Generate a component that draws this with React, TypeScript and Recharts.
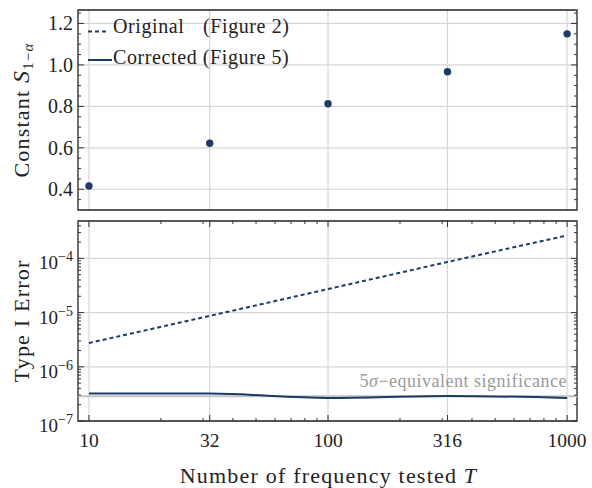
import React from 'react';
import {
  ScatterChart, ComposedChart, Scatter, Line, XAxis, YAxis, CartesianGrid,
  ReferenceLine, ReferenceArea, Legend,
} from 'recharts';

// values
const frequencies = [10, 32, 100, 316, 1000];
const constantS = [0.416, 0.622, 0.813, 0.967, 1.15];
const originalError = [2.75e-6, 8.7e-6, 2.72e-5, 8.6e-5, 2.65e-4];
const correctedError = [3.22e-7, 3.2e-7, 2.67e-7, 2.9e-7, 2.67e-7];
const fiveSigmaLevel = 2.87e-7;

// ticks
const xMajor = [10, 32, 100, 316, 1000];
const xMinor = [20, 30, 40, 50, 60, 70, 80, 90, 200, 300, 400, 500, 600, 700, 800, 900];
const sMajor = [0.4, 0.6, 0.8, 1.0, 1.2];
const sMinor = [0.35, 0.45, 0.5, 0.55, 0.65, 0.7, 0.75, 0.85, 0.9, 0.95, 1.05, 1.1, 1.15, 1.25];
const errMajor = [1e-7, 1e-6, 1e-5, 1e-4];
const errMinor = [
  2e-7, 3e-7, 4e-7, 5e-7, 6e-7, 7e-7, 8e-7, 9e-7,
  2e-6, 3e-6, 4e-6, 5e-6, 6e-6, 7e-6, 8e-6, 9e-6,
  2e-5, 3e-5, 4e-5, 5e-5, 6e-5, 7e-5, 8e-5, 9e-5,
  2e-4, 3e-4, 4e-4,
];

const sRows = frequencies.map((T, i) => ({ T, s: constantS[i] }));
const errRows = frequencies.map((T, i) => ({ T, original: originalError[i], corrected: correctedError[i] }));

const SERIF = 'Liberation Serif';
const NAVY = '#1e3a66';
const TICK = '#333';
const GRID = '#d6d6d6';
const PLOT_W = 499;
const PLOT_H = 200;
const MAJOR_LEN = 6;
const MINOR_LEN = 3;

const xTick = (labels: boolean) => (props: any) => {
  const { x, y, payload } = props;
  const v = payload.value;
  const major = xMajor.includes(v);
  const len = major ? MAJOR_LEN : MINOR_LEN;
  return (
    <g>
      <line x1={x} x2={x} y1={y} y2={y - len} stroke={TICK} />
      <line x1={x} x2={x} y1={y - PLOT_H} y2={y - PLOT_H + len} stroke={TICK} />
      {labels && major && (
        <text x={x} y={y + 26} textAnchor="middle" fontSize={19.5} fontFamily={SERIF} fill="#222">{v}</text>
      )}
    </g>
  );
};

const sTick = (props: any) => {
  const { x, y, payload } = props;
  const v = payload.value;
  const major = sMajor.includes(v);
  const len = major ? MAJOR_LEN : MINOR_LEN;
  return (
    <g>
      <line x1={x} x2={x + len} y1={y} y2={y} stroke={TICK} />
      <line x1={x + PLOT_W} x2={x + PLOT_W - len} y1={y} y2={y} stroke={TICK} />
      {major && (
        <text x={x - 5} y={y + 7} textAnchor="end" fontSize={20} fontFamily={SERIF} fill="#222">{v.toFixed(1)}</text>
      )}
    </g>
  );
};

const errTick = (props: any) => {
  const { x, y, payload } = props;
  const v = payload.value;
  const major = errMajor.includes(v);
  const len = major ? MAJOR_LEN : MINOR_LEN;
  const exp = Math.round(Math.log10(v));
  return (
    <g>
      <line x1={x} x2={x + len} y1={y} y2={y} stroke={TICK} />
      <line x1={x + PLOT_W} x2={x + PLOT_W - len} y1={y} y2={y} stroke={TICK} />
      {major && (
        <text x={x - 5} y={y + 11} textAnchor="end" fontSize={19} fontFamily={SERIF} fill="#222">
          10<tspan fontSize={14} dy={-8}>{'\u2212' + Math.abs(exp)}</tspan>
        </text>
      )}
    </g>
  );
};

const yTitle = (render: (cx: number, cy: number) => React.ReactNode) => (props: any) => {
  const vb = props.viewBox;
  return render(28.5, vb.y + vb.height / 2);
};

const LegendBox = () => (
  <svg width={300} height={80} style={{ display: 'block' }}>
    <line x1={88} x2={108} y1={31.5} y2={31.5} stroke={NAVY} strokeWidth={2} strokeDasharray="4 3" />
    <line x1={88} x2={112} y1={60} y2={60} stroke={NAVY} strokeWidth={2} />
    <g fontFamily={SERIF} fontSize={20} fill="#222" letterSpacing={0.6}>
      <text x={113} y={32.5}>Original</text>
      <text x={203} y={32.5}>(Figure 2)</text>
      <text x={113} y={63.5}>Corrected (Figure 5)</text>
    </g>
  </svg>
);

export default function App() {
  return (
    <div style={{ position: 'absolute', left: 0, top: 0, width: 592, height: 488, background: '#fff' }}>
      <div style={{ position: 'absolute', left: 0, top: 0 }}>
        <ScatterChart width={592} height={222} margin={{ top: 10, right: 15, bottom: 12, left: 0 }}>
          <CartesianGrid verticalValues={xMajor} horizontalValues={sMajor} stroke={GRID} strokeWidth={1.2} />
          <XAxis
            dataKey="T" type="number" scale="log" domain={[9, 1100]} allowDataOverflow
            ticks={[...xMajor, ...xMinor]} interval={0} height={0}
            tickSize={0} tickMargin={0} tickLine={false} axisLine={false} tick={xTick(false)}
          />
          <YAxis
            dataKey="s" type="number" domain={[0.3, 1.265]} allowDataOverflow
            ticks={[...sMajor, ...sMinor]} interval={0} width={78}
            tickSize={0} tickMargin={0} tickLine={false} axisLine={false} tick={sTick}
            label={yTitle((cx, cy) => (
              <text transform={`rotate(-90, ${cx}, ${cy})`} x={cx} y={cy} textAnchor="middle"
                fontFamily={SERIF} fontSize={22} fill="#222" letterSpacing={1.2}>
                Constant <tspan fontStyle="italic" fontSize={24}>S</tspan>
                <tspan fontSize={15} dy={4}>1{'\u2212'}</tspan>
                <tspan fontSize={15} fontStyle="italic">α</tspan>
              </text>
            ))}
          />
          <ReferenceArea x1={9} x2={1100} y1={0.3} y2={1.265} fill="none" stroke="#222" strokeWidth={1.3} ifOverflow="visible" />
          <Scatter
            data={sRows} fill={NAVY} isAnimationActive={false}
            shape={(p: any) => <circle cx={p.cx} cy={p.cy} r={3.7} fill={NAVY} />}
          />
          <Legend
            layout="horizontal" verticalAlign="middle" align="center"
            wrapperStyle={{ top: 0, left: 0, width: 300, height: 80 }}
            content={() => <LegendBox />}
          />
        </ScatterChart>
      </div>
      <div style={{ position: 'absolute', left: 0, top: 211 }}>
        <ComposedChart width={592} height={277} data={errRows} margin={{ top: 10, right: 15, bottom: 0, left: 0 }}>
          <CartesianGrid verticalValues={xMajor} horizontalValues={errMajor} stroke={GRID} strokeWidth={1.2} />
          <XAxis
            dataKey="T" type="number" scale="log" domain={[9, 1100]} allowDataOverflow
            ticks={[...xMajor, ...xMinor]} interval={0} height={67}
            tickSize={0} tickMargin={0} tickLine={false} axisLine={false} tick={xTick(true)}
            label={(props: any) => {
              const vb = props.viewBox;
              return (
                <text x={vb.x + vb.width / 2 + 1} y={vb.y + 62} textAnchor="middle"
                  fontFamily={SERIF} fontSize={22} fill="#222" letterSpacing={1.2}>
                  Number of frequency tested <tspan fontStyle="italic">T</tspan>
                </text>
              );
            }}
          />
          <YAxis
            type="number" scale="log" domain={[1e-7, 4.9e-4]} allowDataOverflow
            ticks={[...errMajor, ...errMinor]} interval={0} width={78}
            tickSize={0} tickMargin={0} tickLine={false} axisLine={false} tick={errTick}
            label={yTitle((cx, cy) => (
              <text transform={`rotate(-90, ${cx}, ${cy})`} x={cx} y={cy} textAnchor="middle"
                fontFamily={SERIF} fontSize={22} fill="#222" letterSpacing={1.2}>
                Type I Error
              </text>
            ))}
          />
          <ReferenceLine
            y={fiveSigmaLevel} stroke="#c4c4c4" strokeWidth={2}
            label={(props: any) => {
              const vb = props.viewBox;
              return (
                <text x={vb.x + vb.width - 10} y={vb.y - 9} textAnchor="end"
                  fontFamily={SERIF} fontSize={18} fill="#9a9a9a" letterSpacing={0.5}>
                  5<tspan fontStyle="italic">σ</tspan>{'\u2212'}equivalent significance
                </text>
              );
            }}
          />
          <Line dataKey="original" type="linear" stroke={NAVY} strokeWidth={2} strokeDasharray="4 3" dot={false} isAnimationActive={false} />
          <Line dataKey="corrected" type="monotone" stroke={NAVY} strokeWidth={2} dot={false} isAnimationActive={false} />
          <ReferenceArea x1={9} x2={1100} y1={1e-7} y2={4.9e-4} fill="none" stroke="#222" strokeWidth={1.3} ifOverflow="visible" />
        </ComposedChart>
      </div>
    </div>
  );
}
